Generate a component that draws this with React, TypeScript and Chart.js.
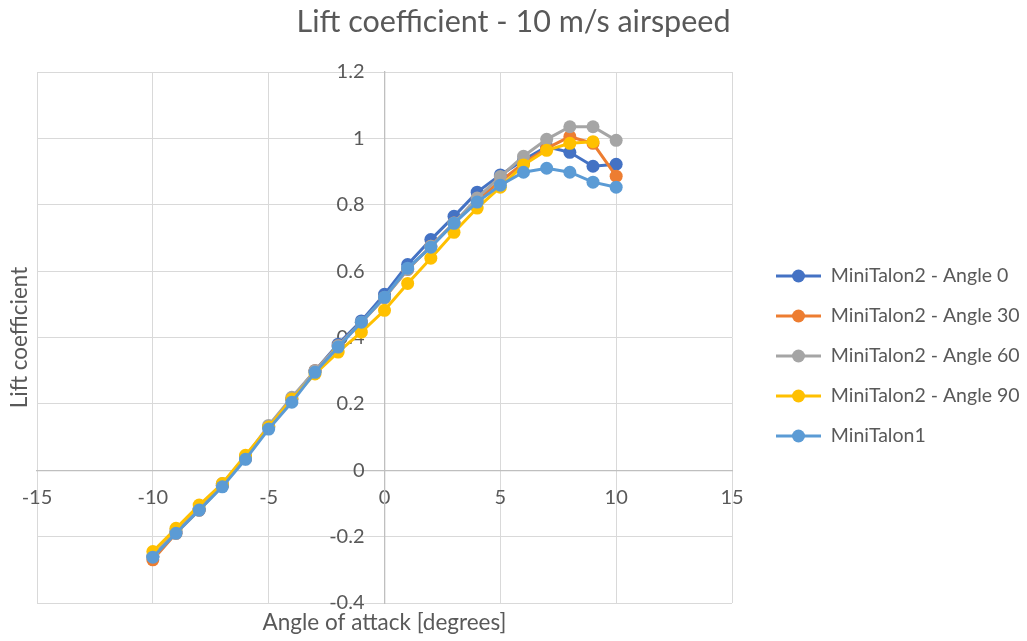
import React, { useEffect, useRef } from "react";
import { Chart, registerables } from "chart.js";

Chart.register(...registerables);

const chartTitle = "Lift coefficient - 10 m/s airspeed";
const xAxisTitle = "Angle of attack [degrees]";
const yAxisTitle = "Lift coefficient";

const angles = [-10, -9, -8, -7, -6, -5, -4, -3, -2, -1, 0, 1, 2, 3, 4, 5, 6, 7, 8, 9, 10];

const angle0 = [-0.26, -0.185, -0.12, -0.045, 0.035, 0.13, 0.215, 0.3, 0.38, 0.45, 0.53, 0.62, 0.695, 0.765, 0.838, 0.89, 0.935, 0.975, 0.958, 0.916, 0.922];
const angle30 = [-0.27, -0.19, -0.12, -0.045, 0.035, 0.13, 0.215, 0.3, 0.375, 0.445, 0.52, 0.605, 0.675, 0.745, 0.815, 0.87, 0.925, 0.97, 1.005, 0.985, 0.886];
const angle60 = [-0.26, -0.18, -0.115, -0.04, 0.04, 0.135, 0.22, 0.3, 0.375, 0.445, 0.52, 0.605, 0.675, 0.745, 0.82, 0.885, 0.946, 0.997, 1.035, 1.035, 0.994];
const angle90 = [-0.245, -0.175, -0.105, -0.04, 0.045, 0.13, 0.215, 0.29, 0.356, 0.416, 0.482, 0.563, 0.639, 0.717, 0.79, 0.853, 0.92, 0.964, 0.985, 0.99];
const miniTalon1 = [-0.262, -0.19, -0.12, -0.05, 0.033, 0.124, 0.205, 0.295, 0.371, 0.446, 0.521, 0.609, 0.672, 0.744, 0.808, 0.859, 0.898, 0.91, 0.898, 0.868, 0.853];

const seriesNames = [
  "MiniTalon2 - Angle 0",
  "MiniTalon2 - Angle 30",
  "MiniTalon2 - Angle 60",
  "MiniTalon2 - Angle 90",
  "MiniTalon1",
];
const seriesValues = [angle0, angle30, angle60, angle90, miniTalon1];
const seriesColors = ["#4472C4", "#ED7D31", "#A5A5A5", "#FFC000", "#5B9BD5"];

const xMin = -15;
const xMax = 15;
const xStep = 5;
const yMin = -0.4;
const yMax = 1.2;
const yStep = 0.2;

const FONT = "Lato, 'Open Sans', sans-serif";
const TEXT = "#595959";
const PLOT_WIDTH = 695;
const Y_LABEL_GAP = 20;

function legendMarker(color: string): HTMLCanvasElement {
  const c = document.createElement("canvas");
  c.width = 45;
  c.height = 14;
  const ctx = c.getContext("2d")!;
  ctx.strokeStyle = color;
  ctx.lineWidth = 3;
  ctx.beginPath();
  ctx.moveTo(0, 7);
  ctx.lineTo(45, 7);
  ctx.stroke();
  ctx.fillStyle = color;
  ctx.beginPath();
  ctx.arc(22.5, 7, 6.5, 0, Math.PI * 2);
  ctx.fill();
  return c;
}

const hiddenAxis = {
  ticks: { display: false },
  grid: { display: false, drawTicks: false },
  border: { display: false },
};

export default function App() {
  const ref = useRef<HTMLCanvasElement>(null);

  useEffect(() => {
    document.body.style.margin = "0";
    const markers = seriesColors.map(legendMarker);
    const chart = new Chart(ref.current!, {
      type: "line",
      data: {
        datasets: seriesValues.map((vals, i) => ({
          label: seriesNames[i],
          data: vals.map((v, j) => ({ x: angles[j], y: v })),
          borderColor: seriesColors[i],
          backgroundColor: seriesColors[i],
          pointBackgroundColor: seriesColors[i],
          pointBorderColor: seriesColors[i],
          borderWidth: 3,
          pointRadius: 6.5,
          pointBorderWidth: 0,
          tension: 0,
          fill: false,
          order: seriesValues.length - i,
          xAxisID: "x",
          yAxisID: "y",
        })),
      },
      options: {
        responsive: false,
        animation: false,
        layout: { padding: 0 },
        plugins: {
          title: {
            display: true,
            text: chartTitle,
            color: TEXT,
            font: { family: FONT, size: 30.5, weight: "normal" },
            padding: { top: 4, bottom: 31.4 },
          },
          legend: {
            display: true,
            position: "right",
            maxWidth: 271.5,
            title: {
              display: true,
              text: " ",
              font: { family: FONT, size: 10 },
              padding: 29.5,
            },
            labels: {
              usePointStyle: true,
              pointStyleWidth: 45,
              padding: 20.5,
              color: TEXT,
              font: { family: FONT, size: 19.5 },
              generateLabels: () =>
                seriesNames.map((name, i) => ({
                  text: name,
                  fillStyle: seriesColors[i],
                  strokeStyle: seriesColors[i],
                  lineWidth: 0,
                  pointStyle: markers[i],
                  hidden: false,
                  datasetIndex: i,
                  fontColor: TEXT,
                })),
            },
          },
          tooltip: { enabled: false },
        },
        scales: {
          x: {
            type: "linear",
            position: { y: 0 },
            min: xMin,
            max: xMax,
            ticks: {
              stepSize: xStep,
              color: TEXT,
              font: { family: FONT, size: 20 },
              padding: 15,
              maxRotation: 0,
            },
            grid: { color: "#D9D9D9", drawTicks: false, lineWidth: 1 },
            border: { color: "#BFBFBF", width: 1.3 },
            afterFit: (s: any) => {
              s.height = 0;
            },
          },
          y: {
            type: "linear",
            position: { x: 0 },
            min: yMin,
            max: yMax,
            ticks: { display: false, stepSize: yStep },
            grid: { color: "#D9D9D9", drawTicks: false, lineWidth: 1 },
            border: { color: "#BFBFBF", width: 1.3 },
            afterFit: (s: any) => {
              s.width = 0;
            },
          },
          yLabels: {
            type: "linear",
            axis: "y",
            position: { x: -(Y_LABEL_GAP * (xMax - xMin)) / PLOT_WIDTH },
            min: yMin,
            max: yMax,
            ticks: {
              stepSize: yStep,
              color: TEXT,
              font: { family: FONT, size: 20 },
              callback: (v: any) => String(Math.round(Number(v) * 10) / 10),
            },
            grid: { display: false, drawTicks: false },
            border: { display: false },
            afterFit: (s: any) => {
              s.width = 0;
            },
          },
          xTitle: {
            type: "linear",
            axis: "x",
            position: "bottom",
            min: xMin,
            max: xMax,
            ...hiddenAxis,
            title: {
              display: true,
              text: xAxisTitle,
              color: TEXT,
              font: { family: FONT, size: 22.5 },
              padding: { top: 0, bottom: 4.5 },
            },
            afterFit: (s: any) => {
              s.height = 38;
            },
          },
          yTitle: {
            type: "linear",
            axis: "y",
            position: "left",
            min: yMin,
            max: yMax,
            ...hiddenAxis,
            title: {
              display: true,
              text: yAxisTitle,
              color: TEXT,
              font: { family: FONT, size: 22.5 },
              padding: { top: 6.5, bottom: 0 },
            },
            afterFit: (s: any) => {
              s.width = 37;
            },
          },
          yRight: {
            type: "linear",
            axis: "y",
            position: "right",
            min: yMin,
            max: yMax,
            ...hiddenAxis,
            afterFit: (s: any) => {
              s.width = 23.5;
            },
          },
        },
      } as any,
    });
    return () => chart.destroy();
  }, []);

  return (
    <div style={{ width: 1027, height: 641 }}>
      <canvas ref={ref} width={1027} height={641} style={{ display: "block" }} />
    </div>
  );
}
